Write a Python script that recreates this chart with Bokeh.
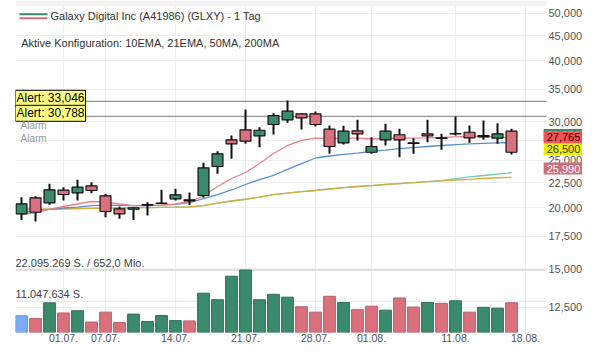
from bokeh.plotting import figure
from bokeh.models import (Range1d, LinearScale, FixedTicker, CustomJSTickFormatter,
                          Label, Span, BoxAnnotation, ColumnDataSource)
from bokeh.embed import file_html
from bokeh.resources import INLINE

# ---------------- data ----------------
dates = ["26.06.", "27.06.", "30.06.", "01.07.", "02.07.", "03.07.", "07.07.", "08.07.",
         "09.07.", "10.07.", "11.07.", "14.07.", "15.07.", "16.07.", "17.07.", "18.07.",
         "21.07.", "22.07.", "23.07.", "24.07.", "25.07.", "28.07.", "29.07.", "30.07.",
         "31.07.", "01.08.", "04.08.", "05.08.", "06.08.", "07.08.", "08.08.", "11.08.",
         "12.08.", "13.08.", "14.08.", "15.08."]

opens = [19.44, 20.96, 20.47, 21.73, 21.46, 22.18, 21.16, 19.90, 19.86, 20.26, 20.41, 20.86,
         20.76, 21.19, 24.30, 27.56, 28.89, 28.08, 29.62, 30.28, 31.15, 31.15, 28.97, 27.15,
         28.75, 25.99, 27.56, 28.22, 27.17, 28.35, 27.80, 28.32, 28.56, 28.12, 27.77, 28.70]
highs = [21.02, 21.12, 22.39, 22.04, 22.82, 22.56, 21.36, 20.12, 20.00, 20.53, 21.77, 21.87,
         21.49, 24.72, 26.11, 28.12, 31.79, 29.25, 31.24, 33.17, 31.24, 31.49, 29.48, 29.45,
         30.28, 27.90, 29.72, 29.03, 27.77, 30.28, 28.35, 30.76, 29.48, 30.18, 29.80, 29.03]
lows = [18.89, 18.74, 20.28, 20.70, 20.70, 21.42, 19.13, 18.99, 18.89, 19.28, 20.37, 20.70,
        20.26, 20.99, 23.47, 25.20, 27.04, 26.61, 28.25, 29.86, 28.93, 29.34, 25.80, 26.95,
        27.47, 25.80, 26.83, 25.39, 25.80, 27.25, 26.29, 28.12, 27.17, 27.56, 27.04, 25.71]
closes = [20.38, 19.58, 21.77, 21.29, 22.04, 21.70, 19.65, 19.44, 20.00, 20.30, 20.45, 21.26,
          20.67, 24.15, 25.80, 27.04, 27.38, 28.83, 30.90, 31.54, 30.57, 29.62, 26.70, 28.70,
          28.35, 26.70, 28.70, 27.56, 27.08, 28.08, 27.74, 28.38, 27.82, 27.95, 28.35, 25.99]

volumes = [5900000, 4900000, 10500000, 6900000, 7700000, 3700000, 7200000, 3500000,
           6500000, 3900000, 6000000, 4200000, 4100000, 13900000, 11600000, 19900000,
           22095269, 11600000, 13500000, 12500000, 9100000, 7200000, 12800000, 10600000,
           8100000, 9300000, 7900000, 12200000, 9000000, 10600000, 10300000, 11200000,
           7200000, 8900000, 8600000, 10500000]

ema10 = [19.37, 19.56, 19.84, 20.12, 20.36, 20.60, 20.55, 20.36, 20.21, 20.21, 20.26, 20.36,
         20.60, 21.14, 22.11, 22.96, 23.62, 24.64, 25.83, 26.83, 27.47, 27.79, 27.73, 27.79,
         27.79, 27.66, 27.73, 27.79, 27.79, 27.82, 27.86, 27.95, 27.99, 27.99, 27.99, 27.765]
ema21 = [19.56, 19.70, 19.84, 19.98, 20.07, 20.21, 20.26, 20.23, 20.21, 20.21, 20.26, 20.33,
         20.50, 20.89, 21.29, 21.75, 22.32, 22.85, 23.29, 23.96, 24.64, 25.29, 25.53, 25.74,
         25.89, 26.10, 26.26, 26.43, 26.55, 26.70, 26.83, 26.93, 27.03, 27.11, 27.16, 27.18]
ma50 = [19.84, 19.86, 19.88, 19.91, 19.93, 19.95, 19.97, 19.99, 20.01, 20.02, 20.04, 20.06,
        20.09, 20.21, 20.45, 20.65, 20.82, 21.04, 21.29, 21.44, 21.59, 21.70, 21.85, 22.00,
        22.11, 22.21, 22.32, 22.42, 22.51, 22.62, 22.74, 22.95, 23.14, 23.29, 23.45, 23.59]
ma200 = [19.84, 19.86, 19.88, 19.91, 19.93, 19.95, 19.97, 19.99, 20.01, 20.02, 20.04, 20.06,
         20.09, 20.21, 20.45, 20.65, 20.82, 21.04, 21.29, 21.44, 21.59, 21.70, 21.85, 22.00,
         22.11, 22.21, 22.32, 22.42, 22.51, 22.62, 22.70, 22.80, 22.87, 22.96, 23.04, 23.10]

alerts = [33.046, 30.788]
alert_texts = ["Alert: 33,046", "Alert: 30,788"]

price_ticks = [12.5, 15, 17.5, 20, 22.5, 25, 27.5, 30, 35, 40, 45, 50]
xtick_idx = [3, 6, 11, 16, 21, 25, 31, 36]
xtick_labels = ["01.07.", "07.07.", "14.07.", "21.07.", "28.07.", "01.08.", "11.08.", "18.08."]

vol_max = 22095269
vol_half = 11047634
vol_max_text = "22.095.269 S. / 652,0 Mio."
vol_half_text = "11.047.634 S."

# tag text, background, text colour (drawn in this order)
tags = [("28,350", "#3a8a6b", "#ffffff"), ("26,500", "#eeee00", "#333333"),
        ("27,765", "#f25555", "#2a0000"), ("25,990", "#d06c79", "#ffffff")]

# ---------------- styling / layout ----------------
FONT = "Liberation Sans"
GREEN = "#3a8a6b"
RED = "#d9707c"
AXIS_X = 37.5          # x position (in bar slots) where the price scale is drawn

x = list(range(len(dates)))
n = len(x)
body_top = [max(o, c) for o, c in zip(opens, closes)]
body_bot = [min(o, c) for o, c in zip(opens, closes)]
body_col = [GREEN if c >= o else RED for o, c in zip(opens, closes)]
vcol, vline = [], []
for i in range(n):
    if i == 0:
        vcol.append("#7eaaf2"); vline.append("#5f8ed8")
    elif closes[i] >= closes[i - 1]:
        vcol.append(GREEN); vline.append("#2f7058")
    else:
        vcol.append(RED); vline.append("#b85e69")

src = ColumnDataSource(dict(x=x, h=highs, l=lows, top=body_top, bot=body_bot, col=body_col,
                            vol=volumes, vcol=vcol, vline=vline,
                            e10=ema10, e21=ema21, m50=ma50, m200=ma200))

p = figure(width=582, height=346, output_backend="svg", toolbar_location=None,
           y_axis_type="log", y_axis_location="right",
           x_range=Range1d(-0.4286, 40.071), y_range=Range1d(11.106, 53.16),
           min_border_left=15, min_border_right=0, min_border_top=0, min_border_bottom=14)
p.outline_line_color = None
p.extra_y_ranges = {"vol": Range1d(0, 117.37e6)}
p.extra_y_scales = {"vol": LinearScale()}

ya = p.yaxis[0]
ya.ticker = FixedTicker(ticks=price_ticks)
ya.formatter = CustomJSTickFormatter(code="return tick.toFixed(3).replace('.', ',');")
ya.fixed_location = AXIS_X
xa = p.xaxis[0]
xa.ticker = FixedTicker(ticks=xtick_idx)
xa.major_label_overrides = {i: lab for i, lab in zip(xtick_idx, xtick_labels)}
for ax, size in ((ya, "11px"), (xa, "10.5px")):
    ax.axis_line_color = None
    ax.major_tick_line_color = None
    ax.minor_tick_line_color = None
    ax.major_tick_in = 0
    ax.major_tick_out = 0
    ax.minor_tick_in = 0
    ax.minor_tick_out = 0
    ax.major_label_text_font = FONT
    ax.major_label_text_font_size = size
    ax.major_label_text_color = "#555555"
ya.major_label_standoff = 2
xa.major_label_standoff = 1

p.ygrid.ticker = FixedTicker(ticks=price_ticks)
p.xgrid.ticker = FixedTicker(ticks=xtick_idx)
p.ygrid.grid_line_color = "#eeeeee"
p.xgrid.grid_line_color = "#eeeeee"

# top band
p.add_layout(BoxAnnotation(bottom=326, bottom_units="screen", fill_color="#f3f3f3",
                           fill_alpha=1, line_color=None, level="underlay"))

# volume guide lines and alert lines (under the marks)
p.add_layout(Span(location=vol_max, dimension="width", y_range_name="vol",
                  line_color="#e0e0e0", line_width=2, level="underlay"))
p.add_layout(Span(location=vol_half, dimension="width", y_range_name="vol",
                  line_color="#e6e6e6", line_width=1, level="underlay"))
for a in alerts:
    p.add_layout(Span(location=a, dimension="width", line_color="#777777", line_width=1,
                      level="underlay"))

# keep the price-scale strip clean
p.add_layout(BoxAnnotation(left=AXIS_X, fill_color="#ffffff", fill_alpha=1,
                           line_color=None, level="underlay"))

# volume bars
p.vbar(x="x", width=0.84, top="vol", bottom=0, fill_color="vcol", line_color="vline",
       line_width=1, y_range_name="vol", source=src)

# moving averages
p.line("x", "m50", source=src, line_color="#72c9b4", line_width=1.3)
p.line("x", "m200", source=src, line_color="#d8ae3c", line_width=1.3)
p.line("x", "e21", source=src, line_color="#5b8fd0", line_width=1.3)
p.line("x", "e10", source=src, line_color="#ea8189", line_width=1.3)

# candles
p.segment(x0="x", y0="h", x1="x", y1="l", source=src, line_color="#111111", line_width=2)
p.vbar(x="x", width=0.78, top="top", bottom="bot", fill_color="col", line_color="#111111",
       line_width=1.2, source=src)

# alert boxes
for a, t in zip(alerts, alert_texts):
    p.add_layout(Label(x=0, x_units="screen", y=a, y_units="data", y_offset=3, text=t,
                       text_baseline="middle", text_font=FONT, text_font_size="12px",
                       text_color="#000000", background_fill_color="#ffff88",
                       border_line_color="#000000", border_line_width=1, padding=1))

# header
p.add_layout(BoxAnnotation(left=4, right=32, top=319.3, bottom=317.3, left_units="screen",
                           right_units="screen", top_units="screen", bottom_units="screen",
                           fill_color="#3a8a6b", fill_alpha=1, line_color=None))
p.add_layout(BoxAnnotation(left=4, right=32, top=315.3, bottom=313.3, left_units="screen",
                           right_units="screen", top_units="screen", bottom_units="screen",
                           fill_color="#d9707c", fill_alpha=1, line_color=None))
p.add_layout(Label(x=35, y=317, x_units="screen", y_units="screen",
                   text="Galaxy Digital Inc (A41986) (GLXY) - 1 Tag", text_baseline="middle",
                   text_font=FONT, text_font_size="11px", text_color="#333333"))
p.add_layout(Label(x=5.7, y=289.3, x_units="screen", y_units="screen",
                   text="Aktive Konfiguration: 10EMA, 21EMA, 50MA, 200MA", text_baseline="middle",
                   text_font=FONT, text_font_size="11px", text_color="#333333"))
for yy in (207, 194):
    p.add_layout(Label(x=5, y=yy, x_units="screen", y_units="screen", text="Alarm",
                       text_baseline="middle", text_font=FONT, text_font_size="10px",
                       text_color="#999999"))

# volume scale labels
p.add_layout(Label(x=0, x_units="screen", y=vol_max, y_range_name="vol", y_offset=1,
                   text=vol_max_text, text_baseline="bottom", text_font=FONT,
                   text_font_size="11px", text_color="#444444"))
p.add_layout(Label(x=0, x_units="screen", y=vol_half, y_range_name="vol", y_offset=1,
                   text=vol_half_text, text_baseline="bottom", text_font=FONT,
                   text_font_size="11px", text_color="#444444"))

# price tags on the price scale
tag_y = [197.5, 183.5, 195.3, 164]
for (t, bg, fg), yy in zip(tags, tag_y):
    p.add_layout(Label(x=548, y=yy, x_units="screen", y_units="screen", text=t,
                       text_align="center", text_baseline="middle", text_font=FONT,
                       text_font_size="11px", text_color=fg, background_fill_color=bg,
                       padding=dict(x=3, y=2)))

open("out.html", "w").write(file_html(p, INLINE))
